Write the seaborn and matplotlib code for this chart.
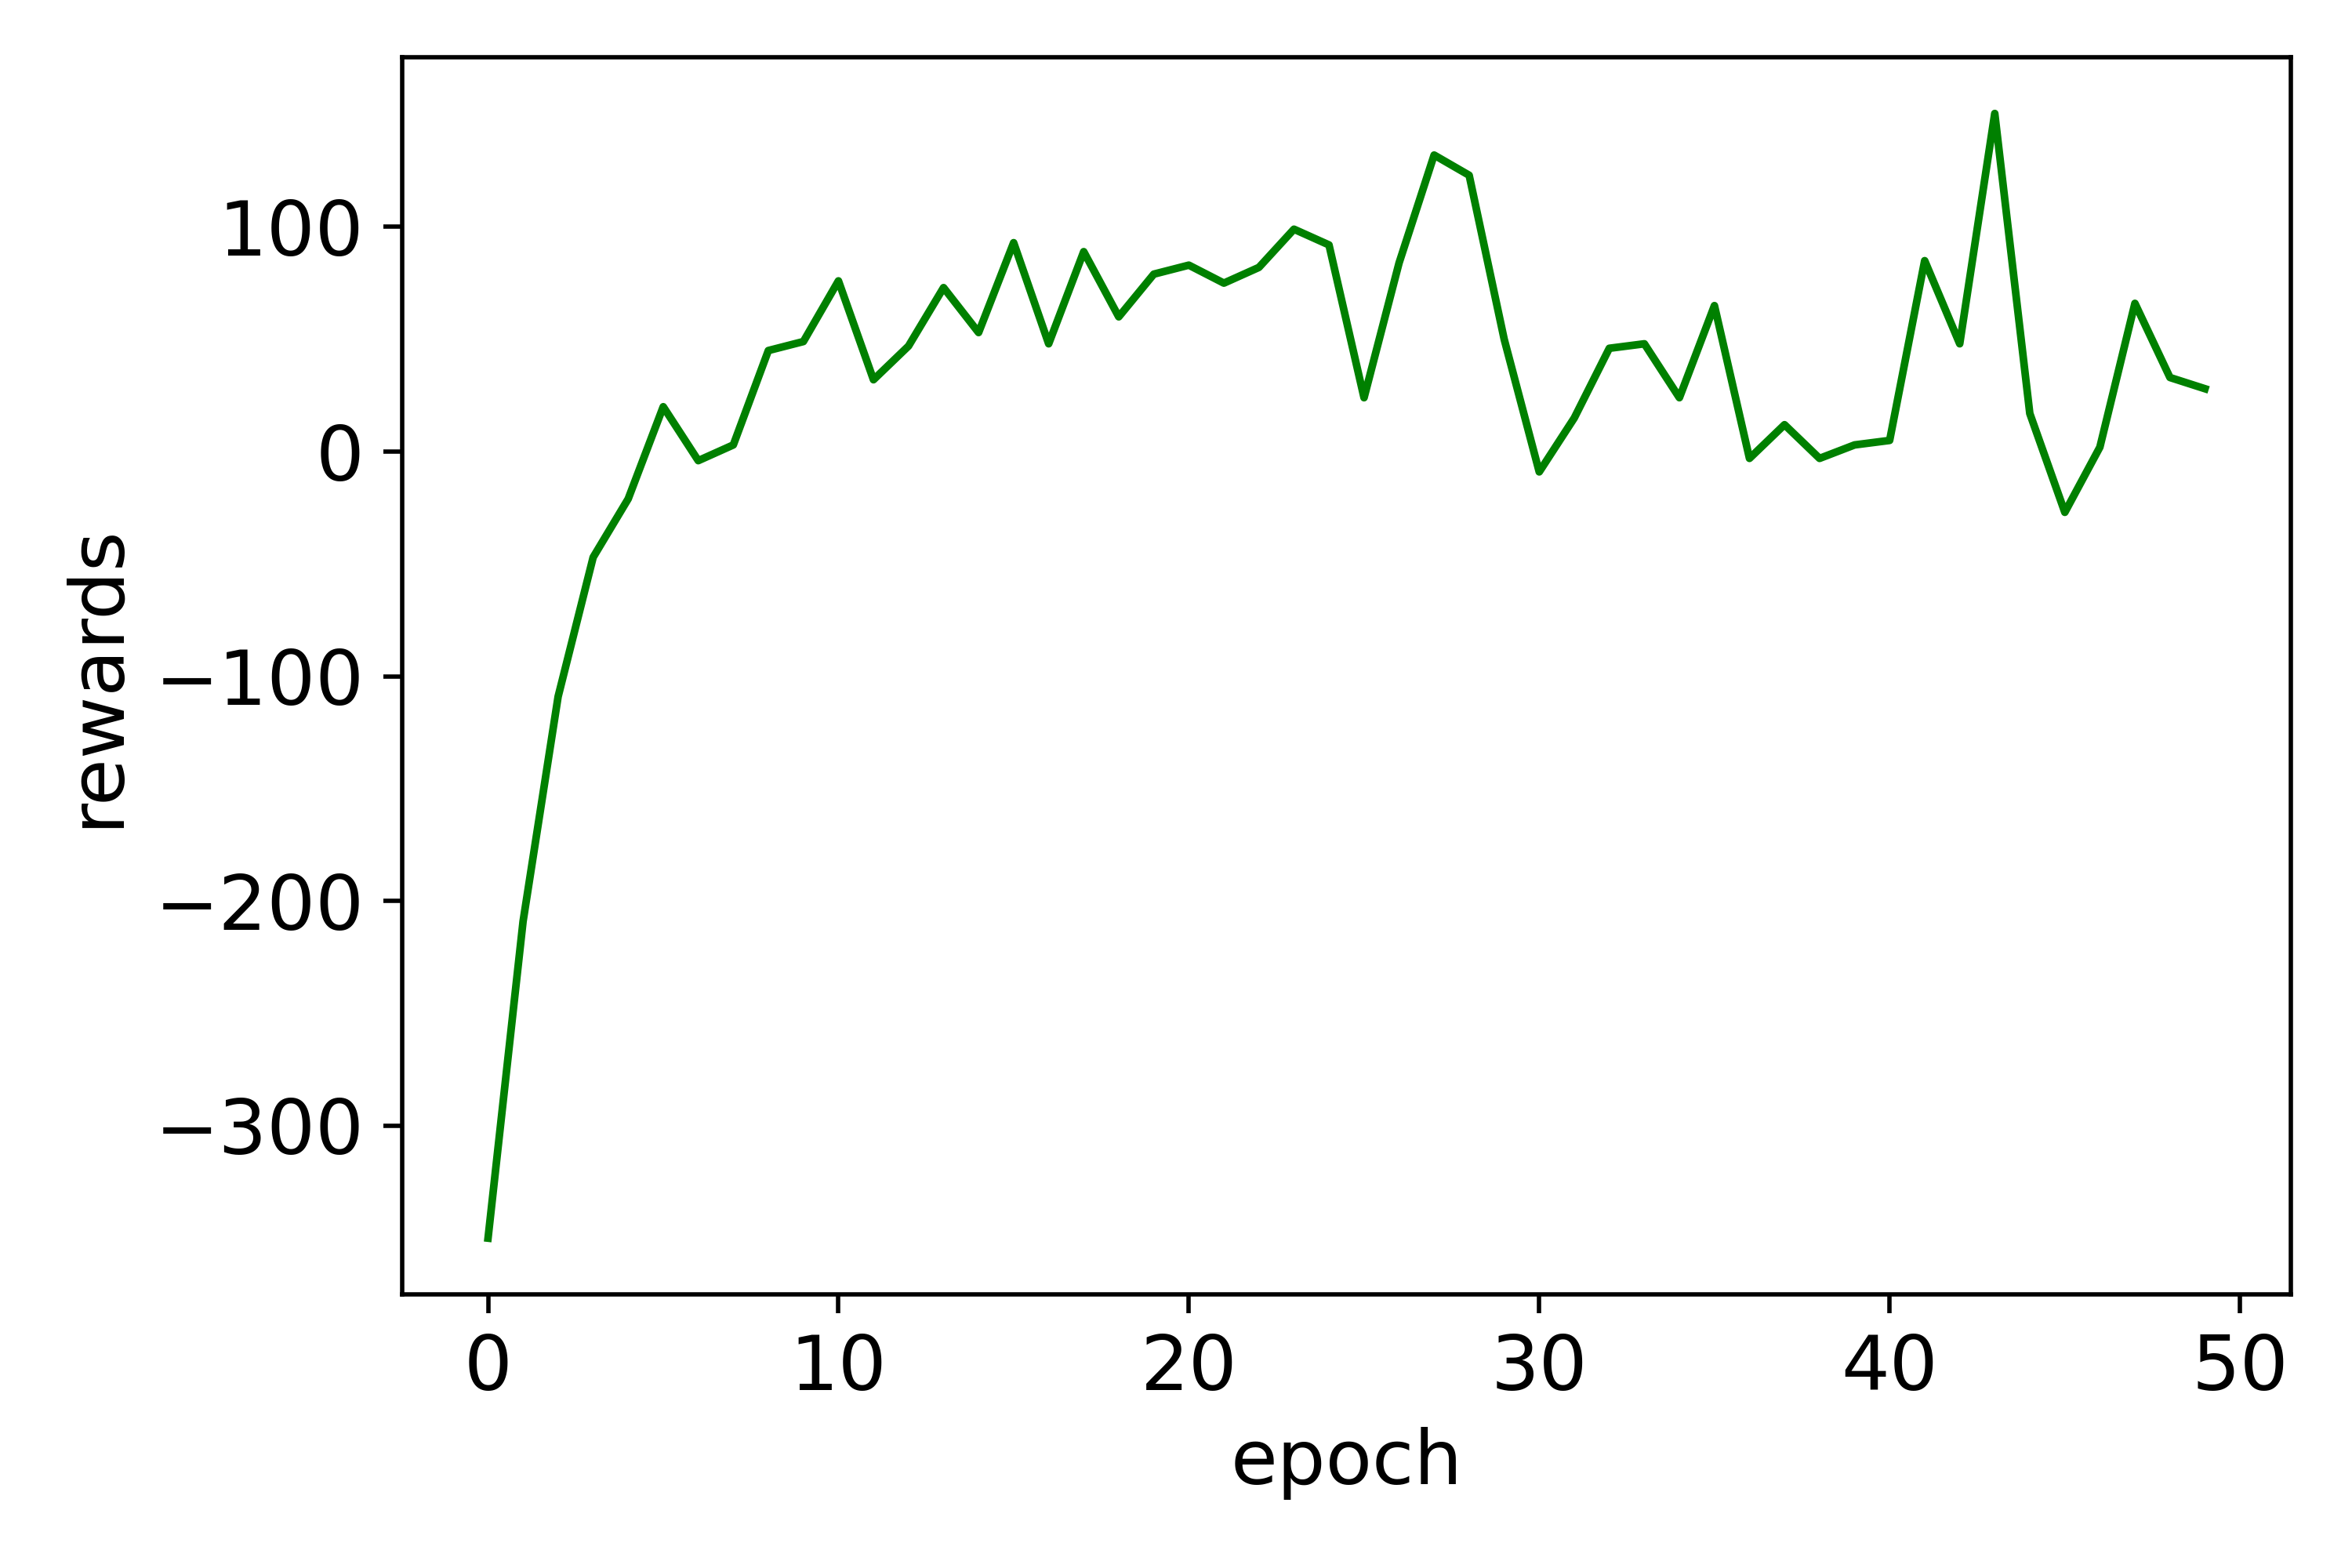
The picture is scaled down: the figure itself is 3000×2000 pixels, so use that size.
import pandas as pd
import matplotlib
matplotlib.use('Agg')
import matplotlib.pyplot as plt
import seaborn as sns

# rewards per epoch
epochs = list(range(50))
rewards = [-350, -209, -109, -47, -21, 20, -4, 3, 45, 49,
           76, 32, 47, 73, 53, 93, 48, 89, 60, 79,
           83, 75, 82, 99, 92, 24, 84, 132, 123, 50,
           -9, 15, 46, 48, 24, 65, -3, 12, -3, 3,
           5, 85, 48, 150.5, 17, -27, 2, 66, 33, 28]

df = pd.DataFrame({'epoch': epochs, 'rewards': rewards})

fig, ax = plt.subplots(figsize=(6, 4), dpi=500)
fig.subplots_adjust(left=0.171, right=0.974, top=0.9635, bottom=0.1745)

sns.lineplot(data=df, x='epoch', y='rewards', color='g', linewidth=1.4, ax=ax)

ax.set_xlabel('epoch', fontsize=14)
ax.set_ylabel('rewards', fontsize=14)
ax.tick_params(labelsize=14)

plt.savefig('out.png', dpi=500)
